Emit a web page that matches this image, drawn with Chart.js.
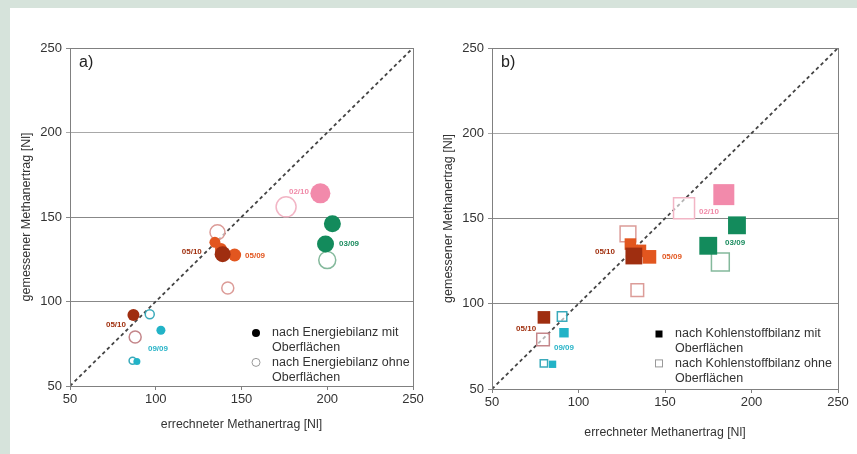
<!DOCTYPE html>
<html>
<head>
<meta charset="utf-8">
<script src="https://cdn.jsdelivr.net/npm/chart.js@4/dist/chart.umd.min.js"></script>
<style>
  html, body { margin: 0; padding: 0; }
  body { width: 857px; height: 454px; background: #d6e3db; position: relative; overflow: hidden; }
  .panel { position: absolute; left: 10px; top: 8px; width: 847px; height: 446px; background: #fff; }
  canvas { position: absolute; top: 8px; }
  #chartA { left: 10px; }
  #chartB { left: 427px; }
</style>
</head>
<body>
<div class="panel"></div>
<canvas id="chartA" width="417" height="446"></canvas>
<canvas id="chartB" width="430" height="446"></canvas>
<script>
// gemessener Methanertrag [Nl]
const measuredMit = [164, 146, 134, 135, 131, 127.5, 128, 92, 83, 64.5]
const measuredOhne = [156, 124.5, 141, 108, 79, 92.5, 65]
// errechneter Methanertrag [Nl], a) Energiebilanz
const energyMit = [196, 203, 199, 134.5, 138, 146, 139, 87, 103, 89]
const energyOhne = [176, 200, 136, 142, 88, 96.5, 86.5]
// errechneter Methanertrag [Nl], b) Kohlenstoffbilanz
const carbonMit = [184, 191.6, 175, 130, 135.5, 141, 132, 80, 91.6, 85]
const carbonOhne = [161, 182, 128.6, 134, 79.5, 90.5, 80]
// Versuch je Punkt
const groupMit = ['02/10', '03/09', '03/09', '05/09', '05/09', '05/09', '05/10', '05/10', '09/09', '09/09']
const groupOhne = ['02/10', '03/09', '05/09', '05/09', '05/10', '09/09', '09/09']
// Beschriftungen [Text, x, y] in Achsenwerten
const labelsA = [['02/10', 183.5, 164.8], ['03/09', 212.7, 134], ['05/10', 121, 129.3], ['05/09', 157.9, 126.9], ['05/10', 76.8, 86.1], ['09/09', 101.3, 71.9]]
const labelsB = [['02/10', 175.4, 153.8], ['03/09', 190.5, 135.5], ['05/10', 115.3, 130.4], ['05/09', 154, 127.4], ['05/10', 69.7, 85.2], ['09/09', 91.6, 74]]
const ticks = [50, 100, 150, 200, 250]

// styles
const sizeMit = [20, 17, 17, 11, 12, 13, 16, 12, 9, 7]
const sizeOhne = [20, 17, 15, 12, 12, 9, 7]
const fillColor = { '02/10': '#f28aab', '03/09': '#138b5c', '05/09': '#e2561f', '05/10': '#9f2e10', '09/09': '#22b3c7' }
const lineColor = { '02/10': '#f2b5c5', '03/09': '#84b99c', '05/09': '#dc9c98', '05/10': '#c4868a', '09/09': '#3aaabb' }
const textColor = { '02/10': '#f08aa8', '03/09': '#1b8c5f', '05/09': '#e2561f', '05/10': '#a0300f', '09/09': '#2ab4c8' }
const FONT = "'Liberation Sans', Arial, sans-serif"

const boxPlugin = {
  id: 'box',
  afterDatasetsDraw: (chart, args, opts) => {
    const { ctx, chartArea: a, scales } = chart
    ctx.save()
    ctx.strokeStyle = '#808080'
    ctx.lineWidth = 1
    ctx.strokeRect(a.left + 0.5, a.top + 0.5, a.right - a.left, a.bottom - a.top)

    // panel letter
    ctx.fillStyle = '#222'
    ctx.font = '16px ' + FONT
    ctx.textBaseline = 'middle'
    ctx.fillText(opts.letter, a.left + 9, a.top + 15)

    // point labels
    ctx.font = 'bold 8px ' + FONT
    ctx.textAlign = 'center'
    opts.labels.forEach(l => {
      ctx.fillStyle = textColor[l[0]]
      ctx.fillText(l[0], scales.x.getPixelForValue(l[1]), scales.y.getPixelForValue(l[2]))
    })

    // legend
    const lx = a.left + opts.legendX
    const ly = a.top + opts.legendY
    ctx.textAlign = 'left'
    ctx.font = '12.5px ' + FONT
    ctx.fillStyle = '#333'
    const lines = [opts.legend[0], 'Oberflächen', opts.legend[1], 'Oberflächen']
    lines.forEach((t, i) => ctx.fillText(t, lx + 16, ly + i * 14.7))
    ctx.fillStyle = '#000'
    ctx.strokeStyle = '#999'
    ctx.lineWidth = 1
    if (opts.square) {
      ctx.fillRect(lx - 3.5, ly - 3.5, 7, 7)
      ctx.strokeRect(lx - 3.5, ly + 29.4 - 3.5, 7, 7)
    } else {
      ctx.beginPath(); ctx.arc(lx, ly, 4, 0, Math.PI * 2); ctx.fill()
      ctx.beginPath(); ctx.arc(lx, ly + 29.4, 4, 0, Math.PI * 2); ctx.stroke()
    }
    ctx.restore()
  }
}

function buildChart (id, calcMit, calcOhne, square, yWidth, xHeight, padRight, yTitlePad, xTitlePad, opts) {
  const k = square ? 1.05 / Math.SQRT1_2 / 2 : 0.5
  return new Chart(id, {
    type: 'scatter',
    data: {
      datasets: [{
        label: 'mit',
        data: calcMit.map((x, i) => ({ x: x, y: measuredMit[i] })),
        pointStyle: square ? 'rect' : 'circle',
        pointRadius: sizeMit.map(s => s * k),
        pointBackgroundColor: groupMit.map(g => fillColor[g]),
        pointBorderColor: groupMit.map(g => fillColor[g]),
        pointBorderWidth: 0
      }, {
        label: 'ohne',
        data: calcOhne.map((x, i) => ({ x: x, y: measuredOhne[i] })),
        pointStyle: square ? 'rect' : 'circle',
        pointRadius: sizeOhne.map(s => s * k),
        pointBackgroundColor: 'rgba(255,255,255,0.6)',
        pointBorderColor: groupOhne.map(g => lineColor[g]),
        pointBorderWidth: 1.5
      }, {
        type: 'line',
        label: 'diag',
        data: [{ x: 50, y: 50 }, { x: 250, y: 250 }],
        borderColor: '#444',
        borderWidth: 1.8,
        borderDash: [3.5, 3],
        pointRadius: 0
      }]
    },
    options: {
      responsive: false,
      animation: false,
      events: [],
      layout: { padding: { top: 40, right: padRight, left: 0, bottom: 0 } },
      scales: {
        x: {
          type: 'linear',
          min: 50,
          max: 250,
          afterFit: s => { s.height = xHeight },
          afterBuildTicks: s => { s.ticks = ticks.map(v => ({ value: v })) },
          grid: { drawOnChartArea: false, tickLength: 4, color: '#808080' },
          border: { color: '#808080' },
          ticks: { color: '#333', font: { family: FONT, size: 13 }, padding: 2, maxRotation: 0 },
          title: { display: true, text: 'errechneter Methanertrag [Nl]', color: '#333', font: { family: FONT, size: 12.3 }, padding: { bottom: xTitlePad } }
        },
        y: {
          type: 'linear',
          min: 50,
          max: 250,
          afterFit: s => { s.width = yWidth },
          afterBuildTicks: s => { s.ticks = ticks.map(v => ({ value: v })) },
          grid: {
            tickLength: 4,
            color: c => (c.tick && c.tick.value === 200) ? '#a8a8a8' : '#888'
          },
          border: { color: '#808080' },
          ticks: { color: '#333', font: { family: FONT, size: 13 }, padding: 4 },
          title: { display: true, text: 'gemessener Methanertrag [Nl]', color: '#333', font: { family: FONT, size: 12.5 }, padding: { top: yTitlePad } }
        }
      },
      plugins: {
        legend: { display: false },
        tooltip: { enabled: false },
        box: opts
      }
    },
    plugins: [boxPlugin]
  })
}

buildChart('chartA', energyMit, energyOhne, false, 60, 68, 14, 9.5, 22.5, {
  letter: 'a)',
  labels: labelsA,
  square: false,
  legendX: 186,
  legendY: 285,
  legend: ['nach Energiebilanz mit', 'nach Energiebilanz ohne']
})

buildChart('chartB', carbonMit, carbonOhne, true, 65, 65, 19, 14.5, 14.5, {
  letter: 'b)',
  labels: labelsB,
  square: true,
  legendX: 167,
  legendY: 286,
  legend: ['nach Kohlenstoffbilanz mit', 'nach Kohlenstoffbilanz ohne']
})
</script>
</body>
</html>
